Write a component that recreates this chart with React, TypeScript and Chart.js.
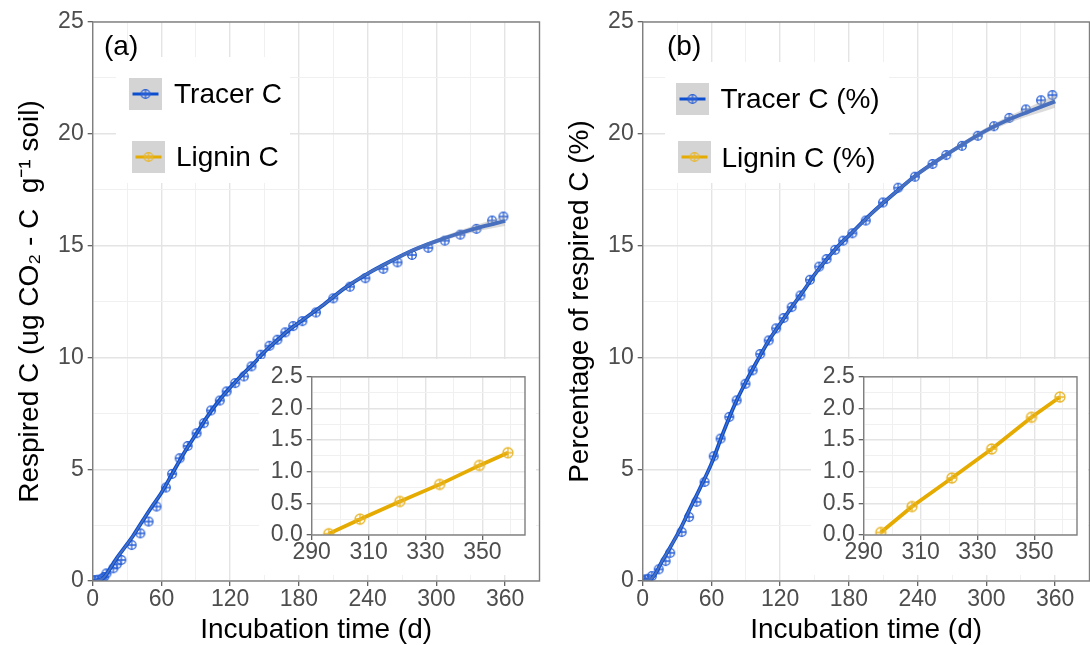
import React, { useEffect, useRef } from "react";
import { Chart, registerables } from "chart.js";

Chart.register(...registerables);

const FONT = '"Liberation Sans", Arial, Helvetica, sans-serif';
const BLUE = "#0c4ed0";
const BLUE_PT = "#2a60d6";
const GOLD = "#e5ab00";
const GOLD_PT = "#e9b62a";
const GRID_MAJ = "#e4e4e4";
const GRID_MIN = "#f0f0f0";
const BORDER = "#7f7f7f";
const TICK_TXT = "#4d4d4d";

// ---------- data ----------
const fitDays = [0, 4, 8, 12, 16, 20, 25, 30, 35, 40, 50, 60, 70, 80, 90, 100, 110, 120, 130, 140, 150, 160, 170, 180, 200, 220, 240, 260, 280, 300, 320, 340, 360];
const tracerFitA = [0, 0.02, 0.08, 0.3, 0.62, 0.95, 1.3, 1.65, 2.0, 2.4, 3.2, 3.95, 4.85, 5.75, 6.55, 7.35, 8.05, 8.65, 9.2, 9.7, 10.25, 10.72, 11.17, 11.55, 12.3, 13.1, 13.75, 14.3, 14.8, 15.2, 15.55, 15.85, 16.1];
const ribbonHalfA = [0.06, 0.06, 0.06, 0.07, 0.07, 0.07, 0.07, 0.07, 0.07, 0.07, 0.06, 0.06, 0.06, 0.06, 0.05, 0.05, 0.05, 0.05, 0.05, 0.05, 0.05, 0.05, 0.05, 0.05, 0.06, 0.06, 0.07, 0.07, 0.08, 0.1, 0.12, 0.16, 0.22];
const tracerFitB = [0, 0.03, 0.12, 0.4, 0.8, 1.15, 1.6, 2.05, 2.55, 3.1, 4.15, 5.25, 6.6, 7.85, 8.9, 9.85, 10.75, 11.5, 12.25, 12.95, 13.7, 14.35, 14.95, 15.45, 16.45, 17.35, 18.2, 18.9, 19.55, 20.15, 20.65, 21.05, 21.45];
const ribbonHalfB = [0.08, 0.08, 0.08, 0.09, 0.09, 0.09, 0.09, 0.09, 0.09, 0.09, 0.08, 0.08, 0.08, 0.07, 0.07, 0.07, 0.07, 0.07, 0.07, 0.07, 0.07, 0.07, 0.07, 0.07, 0.08, 0.08, 0.09, 0.1, 0.11, 0.13, 0.16, 0.21, 0.28];

const tracerDaysA = [0, 2, 5, 8, 10, 12, 18, 21, 25, 34, 41.6, 48.8, 55.7, 63.9, 69.3, 75.9, 82.9, 90.7, 97, 103.3, 110.9, 116.9, 124.4, 132, 138.6, 146.7, 154.3, 161.2, 168.1, 175, 183, 194.9, 210, 224.5, 238, 253.7, 266, 278.7, 292.9, 307.3, 320.9, 335, 348.6, 358.5];
const tracerValsA = [0.02, 0.04, 0.06, 0.1, 0.18, 0.34, 0.57, 0.75, 0.94, 1.61, 2.13, 2.66, 3.33, 4.18, 4.79, 5.49, 6.04, 6.61, 7.06, 7.63, 8.07, 8.48, 8.85, 9.15, 9.6, 10.12, 10.52, 10.79, 11.12, 11.4, 11.62, 12.01, 12.64, 13.16, 13.54, 13.96, 14.25, 14.58, 14.9, 15.22, 15.49, 15.75, 16.12, 16.3];

const tracerDaysB = [0, 2, 5, 8, 14, 20, 24, 34, 40.5, 47, 54, 62, 68, 75.6, 82, 89.7, 96, 102.6, 110, 116.5, 123, 130, 137.7, 146, 154, 160.5, 168, 175, 183, 194.7, 209.7, 223, 237.6, 253, 265, 278.7, 292.5, 306.6, 320, 334.5, 347.7, 357.6];
const tracerValsB = [0.02, 0.07, 0.1, 0.22, 0.52, 0.89, 1.26, 2.19, 2.86, 3.54, 4.43, 5.58, 6.37, 7.34, 8.08, 8.82, 9.42, 10.15, 10.76, 11.3, 11.76, 12.25, 12.77, 13.47, 14.06, 14.4, 14.81, 15.22, 15.55, 16.12, 16.93, 17.59, 18.08, 18.65, 19.05, 19.46, 19.91, 20.34, 20.71, 21.09, 21.5, 21.73];

const ligninDays = [296, 307, 321, 335, 349, 359];
const ligninValsA = [0.02, 0.25, 0.53, 0.8, 1.1, 1.3];
const ligninValsB = [0.04, 0.45, 0.9, 1.36, 1.86, 2.18];

const xMajorMain = [0, 60, 120, 180, 240, 300, 360];
const xMinorMain = [30, 90, 150, 210, 270, 330, 390];
const yMajorMain = [0, 5, 10, 15, 20, 25];
const yMinorMain = [2.5, 7.5, 12.5, 17.5, 22.5];
const xMajorInset = [290, 310, 330, 350];
const xMinorInset = [300, 320, 340, 360];
const yMajorInset = [0, 0.5, 1.0, 1.5, 2.0, 2.5];
const yMinorInset = [0.25, 0.75, 1.25, 1.75, 2.25];

// ---------- helpers ----------
function makeMarker(color: string, r: number, lw: number) {
  const c = document.createElement("canvas");
  const s = Math.ceil(2 * r + lw + 2);
  c.width = s;
  c.height = s;
  const g = c.getContext("2d")!;
  g.strokeStyle = color;
  g.lineWidth = lw;
  const m = s / 2;
  g.beginPath();
  g.arc(m, m, r, 0, Math.PI * 2);
  g.stroke();
  g.beginPath();
  g.moveTo(m - r, m);
  g.lineTo(m + r, m);
  g.moveTo(m, m - r);
  g.lineTo(m, m + r);
  g.stroke();
  return c;
}

const isIn = (arr: number[], v: number) => arr.some((a) => Math.abs(a - v) < 1e-6);

function axis(min: number, max: number, majors: number[], minors: number[], fmt: (v: number) => string, size: number, pad: number, extra: any) {
  const all = [...majors, ...minors].sort((a, b) => a - b);
  return {
    type: "linear",
    min,
    max,
    afterBuildTicks: (s: any) => {
      s.ticks = all.map((v) => ({ value: v }));
    },
    border: { display: false },
    grid: {
      drawTicks: true,
      tickLength: 5,
      color: (c: any) => (c.tick && isIn(majors, c.tick.value) ? GRID_MAJ : GRID_MIN),
      lineWidth: (c: any) => (c.tick && isIn(majors, c.tick.value) ? 1.4 : 1),
      tickColor: (c: any) => (c.tick && isIn(majors, c.tick.value) ? "#555555" : "rgba(0,0,0,0)"),
      tickWidth: 1.2,
    },
    ticks: {
      autoSkip: false,
      maxRotation: 0,
      minRotation: 0,
      color: TICK_TXT,
      font: { family: FONT, size },
      padding: pad,
      callback: (v: number) => (isIn(majors, v) ? fmt(v) : ""),
    },
    ...extra,
  };
}

type LegendItem = { label: string; color: string; kx: number; ky: number; tx: number; ty: number };
type OverlayCfg = {
  background?: boolean;
  tag?: { text: string; x: number; y: number };
  legend?: { box: [number, number, number, number]; items: LegendItem[]; marker: (c: string) => HTMLCanvasElement };
};

function overlayPlugin(cfg: OverlayCfg) {
  return {
    id: "overlay",
    beforeDraw(chart: any) {
      if (cfg.background) {
        const ctx = chart.ctx;
        ctx.save();
        ctx.fillStyle = "#ffffff";
        ctx.fillRect(0, 0, chart.width, chart.height);
        ctx.restore();
      }
    },
    afterDraw(chart: any) {
      const ctx = chart.ctx;
      const { left, top, right, bottom } = chart.chartArea;
      ctx.save();
      ctx.strokeStyle = BORDER;
      ctx.lineWidth = 1.4;
      ctx.strokeRect(left, top, right - left, bottom - top);
      if (cfg.legend) {
        const [bx, by, bw, bh] = cfg.legend.box;
        ctx.fillStyle = "#ffffff";
        ctx.fillRect(bx, by, bw, bh);
        for (const it of cfg.legend.items) {
          ctx.fillStyle = "#d4d4d4";
          ctx.fillRect(it.kx, it.ky, 33, 32);
          ctx.strokeStyle = it.color;
          ctx.lineWidth = 3;
          ctx.beginPath();
          ctx.moveTo(it.kx + 3.5, it.ky + 16);
          ctx.lineTo(it.kx + 29.5, it.ky + 16);
          ctx.stroke();
          const mk = cfg.legend.marker(it.color === BLUE ? BLUE_PT : GOLD_PT);
          ctx.drawImage(mk, it.kx + 16.5 - mk.width / 2, it.ky + 16 - mk.height / 2);
          ctx.fillStyle = "#000000";
          ctx.font = `28px ${FONT}`;
          ctx.textAlign = "left";
          ctx.textBaseline = "middle";
          ctx.fillText(it.label, it.tx, it.ty);
        }
      }
      if (cfg.tag) {
        ctx.fillStyle = "#000000";
        ctx.font = `28px ${FONT}`;
        ctx.textAlign = "left";
        ctx.textBaseline = "middle";
        ctx.fillText(cfg.tag.text, cfg.tag.x, cfg.tag.y);
      }
      ctx.restore();
    },
  };
}

function mainConfig(fit: number[], half: number[], days: number[], vals: number[], yTitle: string, overlay: OverlayCfg) {
  const marker = makeMarker(BLUE_PT, 4.3, 1.3);
  const fitPts = fitDays.map((d, i) => ({ x: d, y: fit[i] }));
  const lo = fitDays.map((d, i) => ({ x: d, y: fit[i] - half[i] }));
  const hi = fitDays.map((d, i) => ({ x: d, y: fit[i] + half[i] }));
  const pts = days.map((d, i) => ({ x: d, y: vals[i] }));
  return {
    type: "line",
    data: {
      datasets: [
        { data: lo, borderWidth: 0, borderColor: "rgba(0,0,0,0)", pointRadius: 0, fill: false, cubicInterpolationMode: "monotone" },
        { data: hi, borderWidth: 0, borderColor: "rgba(0,0,0,0)", pointRadius: 0, fill: "-1", backgroundColor: "rgba(165,165,165,0.4)", cubicInterpolationMode: "monotone" },
        { data: fitPts, borderColor: BLUE, borderWidth: 3.8, pointRadius: 0, fill: false, cubicInterpolationMode: "monotone" },
        { data: pts, showLine: false, pointStyle: marker, pointRadius: 4.5, borderColor: BLUE_PT, backgroundColor: "rgba(0,0,0,0)" },
      ],
    },
    options: {
      animation: false,
      responsive: false,
      events: [],
      layout: { padding: { left: 0, top: 22, right: 4, bottom: 0 } },
      plugins: { legend: { display: false }, tooltip: { enabled: false } },
      scales: {
        x: axis(0, 390, xMajorMain, xMinorMain, (v) => String(v), 23, 0, {
          afterFit: (s: any) => {
            s.height = 64;
          },
          title: { display: true, text: "Incubation time (d)", color: "#000000", font: { family: FONT, size: 28, lineHeight: 1 }, padding: { top: 0, bottom: 1 } },
        }),
        y: axis(0, 25, yMajorMain, yMinorMain, (v) => String(v), 23, 4, {
          afterFit: (s: any) => {
            s.width = 92.7;
          },
          title: { display: true, text: yTitle, color: "#000000", font: { family: FONT, size: 28, lineHeight: 1 }, padding: { top: 16, bottom: 0 } },
        }),
      },
    },
    plugins: [overlayPlugin(overlay)],
  };
}

function insetConfig(vals: number[]) {
  const marker = makeMarker(GOLD_PT, 5, 1.3);
  const pts = ligninDays.map((d, i) => ({ x: d, y: vals[i] }));
  return {
    type: "line",
    data: {
      datasets: [
        { data: pts, borderColor: GOLD, borderWidth: 3.8, pointStyle: marker, pointRadius: 5, backgroundColor: "rgba(0,0,0,0)", fill: false },
      ],
    },
    options: {
      animation: false,
      responsive: false,
      events: [],
      layout: { padding: { left: 0, top: 10, right: 11, bottom: 0 } },
      plugins: { legend: { display: false }, tooltip: { enabled: false } },
      scales: {
        x: axis(290, 365, xMajorInset, xMinorInset, (v) => String(v), 23, -1, {
          afterFit: (s: any) => {
            s.height = 40;
          },
        }),
        y: axis(0, 2.5, yMajorInset, yMinorInset, (v) => v.toFixed(1), 23, 4, {
          afterFit: (s: any) => {
            s.width = 52.7;
          },
        }),
      },
    },
    plugins: [overlayPlugin({ background: true })],
  };
}

function ChartBox({ left, top, width, height, make }: { left: number; top: number; width: number; height: number; make: () => any }) {
  const ref = useRef<HTMLCanvasElement | null>(null);
  useEffect(() => {
    const chart = new Chart(ref.current as HTMLCanvasElement, make());
    return () => chart.destroy();
  }, []);
  return (
    <div style={{ position: "absolute", left, top, width, height }}>
      <canvas ref={ref} width={width} height={height} style={{ display: "block", width, height }} />
    </div>
  );
}

export default function App() {
  const legendMarker = (c: string) => makeMarker(c, 4.3, 1.3);
  return (
    <div style={{ position: "absolute", left: 0, top: 0, width: 1090, height: 645, overflow: "hidden", background: "#ffffff" }}>
      <ChartBox
        left={0}
        top={0}
        width={545}
        height={645}
        make={() =>
          mainConfig(tracerFitA, ribbonHalfA, tracerDaysA, tracerValsA, "Respired C (ug CO\u2082 - C  g\u207B\u00B9 soil)", {
            tag: { text: "(a)", x: 104, y: 47 },
            legend: {
              box: [116, 57, 174, 126],
              marker: legendMarker,
              items: [
                { label: "Tracer C", color: BLUE, kx: 129, ky: 78, tx: 174, ty: 95 },
                { label: "Lignin C", color: GOLD, kx: 132, ky: 141, tx: 176, ty: 158 },
              ],
            },
          })
        }
      />
      <ChartBox
        left={550}
        top={0}
        width={545}
        height={645}
        make={() =>
          mainConfig(tracerFitB, ribbonHalfB, tracerDaysB, tracerValsB, "Percentage of respired C (%)", {
            tag: { text: "(b)", x: 117, y: 47 },
            legend: {
              box: [115, 62, 224, 121],
              marker: legendMarker,
              items: [
                { label: "Tracer C (%)", color: BLUE, kx: 126, ky: 83, tx: 170.5, ty: 100 },
                { label: "Lignin C (%)", color: GOLD, kx: 128, ky: 141, tx: 171.5, ty: 159 },
              ],
            },
          })
        }
      />
      <ChartBox left={259} top={359} width={277} height={216} make={() => insetConfig(ligninValsA)} />
      <ChartBox left={810.5} top={359} width={277} height={216} make={() => insetConfig(ligninValsB)} />
    </div>
  );
}
